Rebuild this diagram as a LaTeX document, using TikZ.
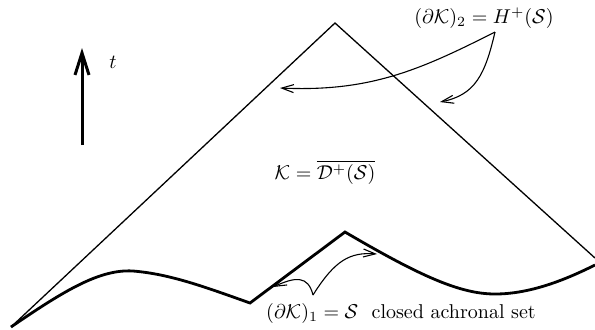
\documentclass[tikz,border=0pt]{standalone}
\usepackage{amsmath,amssymb}
\usepackage{tikz}
\usetikzlibrary{arrows.meta}

\begin{document}
\begin{tikzpicture}[x=0.5pt, y=-0.5pt, >={Straight Barb[length=6pt,width=4pt]},
	cone/.style={line width=0.65pt},
	slice/.style={line width=1.4pt, line join=miter},
	pointer/.style={->, line width=0.55pt}]
	\useasboundingbox (0,0) rectangle (595,329);
	% light cone and the achronal set
	\coordinate (base) at (11,327);
	\coordinate (apex) at (335,23);
	\coordinate (rim) at (595,258);
	\draw[cone] (base) -- (apex) -- (rim);
	\draw[slice] (base) .. controls (65,290) and (100,269) .. (133,271)
		.. controls (170,274) and (205,287) .. (250,303) -- (345,232)
		.. controls (420,276) and (460,294) .. (495,294)
		.. controls (530,294) and (565,280) .. (595,265);
	% time direction
	\coordinate (tbot) at (82,145);
	\coordinate (ttop) at (82,48);
	\draw[->, >={Straight Barb[length=11pt,width=7pt]}, line width=1.5pt] (tbot) -- (ttop);
	\node (tlabel) at (113,62) {$t$};
	% labels
	\node (lblH) at (484,18) {$(\partial\mathcal{K})_2 = H^+(\mathcal{S})$};
	\node (lblK) at (325,172) {$\mathcal{K} = \overline{\mathcal{D}^+(\mathcal{S})}$};
	\node (lblS) at (401,313) {$(\partial\mathcal{K})_1 = \mathcal{S}$\ \ closed achronal set};
	\coordinate (hstart) at (495,32);
	\coordinate (hleft) at (280,88);
	\coordinate (hright) at (440,102);
	\coordinate (sstart) at (313,295);
	\coordinate (sleft) at (273,287);
	\coordinate (sright) at (377,254);
	\draw[pointer] (hstart) .. controls (420,70) and (370,92) .. (hleft);
	\draw[pointer] (hstart) .. controls (485,75) and (475,95) .. (hright);
	\draw[pointer] (sstart) .. controls (308,275) and (295,277) .. (sleft);
	\draw[pointer] (sstart) .. controls (335,260) and (350,252) .. (sright);
\end{tikzpicture}
\end{document}
